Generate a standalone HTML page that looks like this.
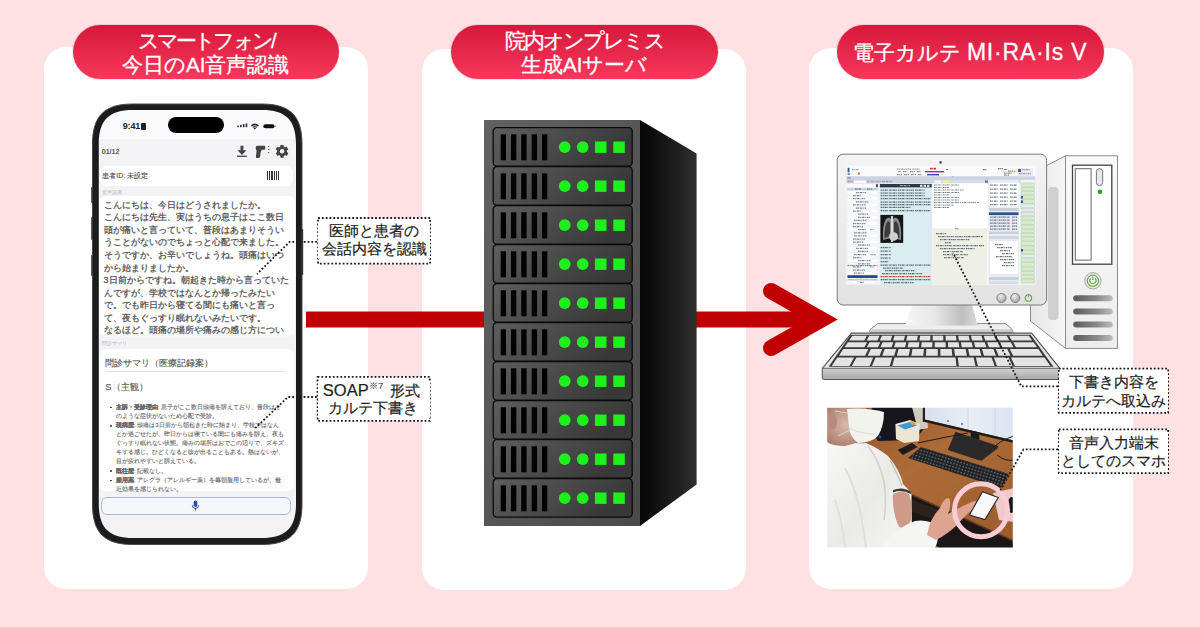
<!DOCTYPE html>
<html lang="ja">
<head>
<meta charset="utf-8">
<style>
*{margin:0;padding:0;box-sizing:border-box}
html,body{width:1200px;height:627px;overflow:hidden}
body{background:#FFE1E4;font-family:"Liberation Sans",sans-serif;position:relative}
.abs{position:absolute}
.card{position:absolute;background:#fff;border-radius:22px}
.pill{position:absolute;top:25px;height:54px;border-radius:27px;
  background:linear-gradient(#D5193B,#F8375B);box-shadow:0 0 1.5px rgba(140,0,30,.55);
  color:#fff;text-align:center;font-weight:normal;-webkit-text-stroke:.3px #fff;font-size:20.5px;line-height:24px;padding-top:4px;white-space:nowrap}
.pill.one{line-height:54px;padding-top:0}
.call{position:absolute;background:#fff;color:#222;font-size:15px;line-height:18.5px;text-align:center;-webkit-text-stroke:.2px #222}
svg{position:absolute;left:0;top:0}
.sum b{font-weight:bold;color:#444}
.bl{position:absolute;left:-5.7px;top:3.6px;width:1.8px;height:1.8px;background:#333;border-radius:1px}
</style>
</head>
<body>
<div class="card" style="left:44px;top:47px;width:324px;height:542px"></div>
<div class="card" style="left:422px;top:49px;width:324px;height:541px"></div>
<div class="card" style="left:808.5px;top:47.5px;width:324.5px;height:541.5px"></div>

<div class="pill" style="left:72.5px;width:266.5px"><span style="letter-spacing:-2.8px">スマートフォン/</span><br>今日のAI音声認識</div>
<div class="pill" style="left:451px;width:266.5px"><span style="letter-spacing:-1.9px">院内オンプレミス</span><br>生成AIサーバ</div>
<div class="pill one" style="left:837px;width:266.5px">電子カルテ <span style="font-size:23px;letter-spacing:.8px">MI·RA·Is V</span></div>

<!-- phone -->
<div class="abs" id="scr" style="left:98.8px;top:110px;width:197.2px;height:428px;border-radius:20px;background:#F3F3F6;overflow:hidden">
  <div class="abs" style="left:0;top:0;width:196px;height:29px;background:#FBFBFD"></div>
  <div class="abs" style="left:24px;top:11px;font-size:9px;font-weight:bold;color:#222;line-height:10px;letter-spacing:-.2px">9:41</div>
  <div class="abs" style="left:42.5px;top:13px;width:5px;height:6.5px;background:#222;border-radius:1px"></div>
  <div class="abs" style="left:69.4px;top:6.5px;width:55.5px;height:16px;background:#000;border-radius:8px"></div>
  
  <div class="abs" style="left:3px;top:37.5px;font-size:7px;font-weight:bold;color:#555;line-height:8px">01/12</div>
  <!-- icons -->
  <svg class="abs" style="left:0;top:0" width="197" height="60" viewBox="98.8 110 197 60">
    <rect x="237" y="125.6" width="1.7" height="1.6" fill="#333"/><rect x="239.8" y="124.9" width="1.7" height="2.3" fill="#333"/><rect x="242.6" y="124.1" width="1.7" height="3.1" fill="#333"/><rect x="245.4" y="123.4" width="1.7" height="3.8" fill="#333"/>
    <path d="M254.65,129.4 L250.6,125.3 Q254.65,121.6 258.7,125.3Z" fill="#222"/>
    <path d="M251.9,126.6 Q254.65,124.3 257.4,126.6" stroke="#FBFBFD" stroke-width=".8" fill="none"/><path d="M253.1,127.8 Q254.65,126.6 256.2,127.8" stroke="#FBFBFD" stroke-width=".7" fill="none"/>
    <rect x="263.1" y="124.2" width="11.2" height="4" rx="2" fill="#111"/><rect x="274.8" y="125.5" width="1" height="1.5" fill="#999"/>
    <path d="M240.3,145.7 H243.2 V150.3 H246.2 L241.75,155 L237.3,150.3 H240.3Z" fill="#444"/><rect x="236.8" y="155.6" width="9.9" height="1.3" fill="#444"/>
    <path d="M257,145.7 H263.8 Q265.1,145.7 265.1,147 V148.6 Q265.1,149.8 263.8,149.8 H261.6 L260.4,152.5 L259.9,156.8 Q259.6,158.1 258.3,158.1 H256.7 Q255.5,158.1 255.7,156.8 L256.4,150.6 Q255.5,149.6 255.5,148.2 V147.2 Q255.5,145.7 257,145.7Z" fill="#444"/>
    <path d="M267.6,146.8 L269.2,146.2 M267.6,149.6 L269.4,149.4 M267.6,152.4 L269.2,152.8" stroke="#555" stroke-width=".9"/>
    <g transform="translate(281.85 151.3)" fill="#444"><circle r="4.9"/><rect x="-1.7" y="-6.4" width="3.4" height="3" rx=".6"/><rect x="-1.7" y="-6.4" width="3.4" height="3" rx=".6" transform="rotate(60)"/><rect x="-1.7" y="-6.4" width="3.4" height="3" rx=".6" transform="rotate(120)"/><rect x="-1.7" y="-6.4" width="3.4" height="3" rx=".6" transform="rotate(180)"/><rect x="-1.7" y="-6.4" width="3.4" height="3" rx=".6" transform="rotate(240)"/><rect x="-1.7" y="-6.4" width="3.4" height="3" rx=".6" transform="rotate(300)"/><circle r="2.2" fill="#F3F3F6"/></g>
  </svg>
  <!-- patient card -->
  <div class="abs" style="left:1px;top:55.5px;width:193px;height:20px;background:#fff;border-radius:7px"></div>
  <div class="abs" style="left:3.5px;top:62px;font-size:7px;color:#555;-webkit-text-stroke:.15px #555;line-height:8px">患者ID: 未設定</div>
  <svg class="abs" style="left:168px;top:61px" width="13" height="10" shape-rendering="crispEdges"><rect x="0" y="0" width="1" height="9" fill="#333"/><rect x="2" y="0" width="1" height="9" fill="#333"/><rect x="4" y="0" width="2" height="9" fill="#333"/><rect x="7" y="0" width="1" height="9" fill="#333"/><rect x="9" y="0" width="1" height="9" fill="#333"/><rect x="11" y="0" width="1" height="9" fill="#333"/></svg>
  <div class="abs" style="left:3.5px;top:79px;font-size:5px;color:#B5B5BA;line-height:6px">音声認識</div>
  <!-- conversation -->
  <div class="abs" style="left:0;top:86px;width:196px;height:141px;background:#fff;border-radius:7px;overflow:hidden"><div class="abs conv" style="left:4.8px;top:2.7px;font-size:8.85px;line-height:12.56px;color:#505050;-webkit-text-stroke:.25px #505050;white-space:nowrap">こんにちは、今日はどうされましたか。<br>こんにちは先生、実はうちの息子はここ数日<br>頭が痛いと言っていて、普段はあまりそうい<br>うことがないのでちょっと心配で来ました。<br>そうですか、お辛いでしょうね。頭痛はいつ<br>から始まりましたか。<br>3日前からですね。朝起きた時から言っていた<br>んですが、学校ではなんとか帰ったみたい<br>で。でも昨日から寝てる間にも痛いと言っ<br>て、夜もぐっすり眠れないみたいです。<br>なるほど。頭痛の場所や痛みの感じ方につい</div></div>
  
  <div class="abs" style="left:0;top:222.5px;width:196px;height:5px;background:linear-gradient(rgba(243,243,246,0),#F3F3F6)"></div>
  <div class="abs" style="left:3.5px;top:230px;font-size:5px;color:#B5B5BA;line-height:6px">問診サマリ</div>
  <!-- summary -->
  <div class="abs" style="left:0;top:238.5px;width:195.5px;height:142px;background:#fff;border-radius:7px"></div>
  <div class="abs" style="left:6.5px;top:247.8px;font-size:9.35px;line-height:11px;color:#5A5A5A;-webkit-text-stroke:.15px #555;white-space:nowrap">問診サマリ（医療記録案）</div>
  <div class="abs" style="left:6.5px;top:260.5px;width:181px;height:1px;background:#E3E3E6"></div>
  <div class="abs" style="left:6.5px;top:272.3px;font-size:9.35px;line-height:11px;color:#5A5A5A;-webkit-text-stroke:.15px #555;white-space:nowrap">S（主観）</div>
  <div class="abs sum" style="left:17px;top:293px;font-size:6.1px;line-height:8.9px;color:#6A6A6A;-webkit-text-stroke:.12px #6A6A6A;white-space:nowrap">
    <div style="position:relative"><i class="bl"></i><b>主訴・受診理由</b>: 息子がここ数日頭痛を訴えており、普段はそ<br>のような症状がないため心配で受診。</div>
    <div style="position:relative;margin-top:.6px"><i class="bl"></i><b>現病歴</b>: 頭痛は3日前から朝起きた時に始まり、学校ではなん<br>とか過ごせたが、昨日からは寝ている間にも痛みを訴え、夜も<br>ぐっすり眠れない状態。痛みの場所はおでこの辺りで、ズキズ<br>キする感じ。ひどくなると咳が出ることもある。熱はないが、<br>目が疲れやすいと訴えている。</div>
    <div style="position:relative;margin-top:.6px"><i class="bl"></i><b>既往歴</b>: 記載なし。</div>
    <div style="position:relative;margin-top:.6px"><i class="bl"></i><b>服用薬</b>: アレグラ（アレルギー薬）を毎朝服用しているが、最<br>近効果を感じられない。</div>
  </div>
  <!-- mic -->
  <div class="abs" style="left:1.8px;top:387.3px;width:190px;height:18px;border:1px solid #A9BAD6;border-radius:6px;background:#F6F7FA"></div>
  <svg class="abs" style="left:92px;top:390px" width="9" height="12" viewBox="0 0 9 12"><rect x="2.7" y="0.5" width="3.6" height="6.6" rx="1.8" fill="#2D4F8E"/><path d="M1.3 5.2q0 3.3 3.2 3.3t3.2-3.3" stroke="#2D4F8E" stroke-width="1" fill="none"/><path d="M4.5 8.5v2.2" stroke="#2D4F8E" stroke-width="1"/></svg>
</div>

<svg width="1200" height="627" style="z-index:1">
  <path d="M80,95 L315,95 L315,555 L80,555Z M132.50,104.00 L262.00,104.00 C290.00,104.00 302.00,116.00 302.00,144.00 L302.00,504.50 C302.00,532.50 290.00,544.50 262.00,544.50 L132.50,544.50 C104.50,544.50 92.50,532.50 92.50,504.50 L92.50,144.00 C92.50,116.00 104.50,104.00 132.50,104.00Z" fill="#fff" fill-rule="evenodd"/>
  <path d="M132.50,104.00 L262.00,104.00 C290.00,104.00 302.00,116.00 302.00,144.00 L302.00,504.50 C302.00,532.50 290.00,544.50 262.00,544.50 L132.50,544.50 C104.50,544.50 92.50,532.50 92.50,504.50 L92.50,144.00 C92.50,116.00 104.50,104.00 132.50,104.00Z M132.80,110.00 L262.00,110.00 C285.80,110.00 296.00,120.20 296.00,144.00 L296.00,504.00 C296.00,527.80 285.80,538.00 262.00,538.00 L132.80,538.00 C109.00,538.00 98.80,527.80 98.80,504.00 L98.80,144.00 C98.80,120.20 109.00,110.00 132.80,110.00Z" fill="#1C1C1C" fill-rule="evenodd"/>
  <path d="M132.50,104.00 L262.00,104.00 C290.00,104.00 302.00,116.00 302.00,144.00 L302.00,504.50 C302.00,532.50 290.00,544.50 262.00,544.50 L132.50,544.50 C104.50,544.50 92.50,532.50 92.50,504.50 L92.50,144.00 C92.50,116.00 104.50,104.00 132.50,104.00Z" fill="none" stroke="#4A4A4A" stroke-width="1"/>
  <rect x="91.2" y="187" width="1.6" height="16" rx=".8" fill="#333"/>
  <rect x="91.2" y="217" width="1.6" height="23" rx=".8" fill="#333"/>
  <rect x="91.2" y="255" width="1.6" height="21" rx=".8" fill="#333"/>
  <rect x="301.6" y="229" width="1.6" height="46" rx=".8" fill="#333"/>
</svg>
<!-- arrow -->
<svg width="1200" height="627" style="z-index:1">
  <rect x="306" y="311.5" width="190" height="16" fill="#C00000"/>
  <rect x="690" y="311.5" width="130" height="16" fill="#C00000"/>
  <polyline points="771,291 821.5,319.5 771,348" fill="none" stroke="#C00000" stroke-width="16" stroke-linecap="round" stroke-linejoin="miter" stroke-miterlimit="10"/>
</svg>

<!-- server -->
<svg width="1200" height="627" style="z-index:2">
  <defs>
    <linearGradient id="sside" x1="0" x2="1" y1="0" y2="0"><stop offset="0" stop-color="#050505"/><stop offset="1" stop-color="#2E2E2E"/></linearGradient>
    <linearGradient id="sfront" x1="0" x2="1" y1="0" y2="1"><stop offset="0" stop-color="#626262"/><stop offset="1" stop-color="#4A4A4A"/></linearGradient>
    <linearGradient id="sbay" x1="0" x2="1" y1="0" y2=".3"><stop offset="0" stop-color="#5E5E5E"/><stop offset="1" stop-color="#383838"/></linearGradient>
    <g id="bay">
      <rect x="493.2" y="0.4" width="139" height="38.4" rx="3.5" fill="url(#sbay)" stroke="#0A0A0A" stroke-width="1.3"/>
      <rect x="500.7" y="7" width="5.3" height="26" fill="#000"/>
      <rect x="511" y="7" width="5.3" height="26" fill="#000"/>
      <rect x="521.3" y="7" width="5.3" height="26" fill="#000"/>
      <rect x="531.7" y="7" width="5.3" height="26" fill="#000"/>
      <rect x="542" y="7" width="5.3" height="26" fill="#000"/>
      <circle cx="564.7" cy="19.8" r="5.9" fill="#1EF01E"/>
      <circle cx="582.7" cy="19.8" r="5.9" fill="#1EF01E"/>
      <rect x="594.9" y="14.2" width="11.6" height="11.4" fill="#1EF01E"/>
      <rect x="613.3" y="14.2" width="11.5" height="11.4" fill="#1EF01E"/>
    </g>
  </defs>
  <polygon points="640,120 696.6,153.6 696.6,484.4 640,526" fill="url(#sside)"/>
  <rect x="484" y="120" width="156" height="406" fill="url(#sfront)"/>
  <g transform="translate(0 127.30)"><use href="#bay"/></g><g transform="translate(0 166.30)"><use href="#bay"/></g><g transform="translate(0 205.30)"><use href="#bay"/></g><g transform="translate(0 244.30)"><use href="#bay"/></g><g transform="translate(0 283.30)"><use href="#bay"/></g><g transform="translate(0 322.30)"><use href="#bay"/></g><g transform="translate(0 361.30)"><use href="#bay"/></g><g transform="translate(0 400.30)"><use href="#bay"/></g><g transform="translate(0 439.30)"><use href="#bay"/></g><g transform="translate(0 478.30)"><use href="#bay"/></g>
</svg>

<!-- computer -->
<svg width="1200" height="627" style="z-index:2">
  <defs>
    <linearGradient id="twf" x1="0" x2="0" y1="0" y2="1"><stop offset="0" stop-color="#FAFAFA"/><stop offset="1" stop-color="#EDEDED"/></linearGradient>
    <linearGradient id="tws" x1="0" x2="1" y1="0" y2="0"><stop offset="0" stop-color="#E6E6E6"/><stop offset="1" stop-color="#F6F6F6"/></linearGradient>
    <linearGradient id="slot" x1="0" x2="1"><stop offset="0" stop-color="#5A5A5A"/><stop offset=".6" stop-color="#8A8A8A"/><stop offset="1" stop-color="#BDBDBD"/></linearGradient>
    <linearGradient id="mon" x1="0" x2="0" y1="0" y2="1"><stop offset="0" stop-color="#F4F4F4"/><stop offset="1" stop-color="#E2E2E2"/></linearGradient>
    <linearGradient id="neck" x1="0" x2="1"><stop offset="0" stop-color="#F6F6F6"/><stop offset=".4" stop-color="#E8E8E8"/><stop offset=".78" stop-color="#BEBEBE"/><stop offset="1" stop-color="#DADADA"/></linearGradient>
    <linearGradient id="kbf" x1="0" x2="0" y1="0" y2="1"><stop offset="0" stop-color="#D0D0D0"/><stop offset="1" stop-color="#A8A8A8"/></linearGradient>
    <filter id="sb" x="0" y="0" width="1" height="1"><feGaussianBlur stdDeviation=".5"/></filter>
    <filter id="xb"><feGaussianBlur stdDeviation=".5"/></filter>
    <radialGradient id="btn" cx=".4" cy=".35" r=".7"><stop offset="0" stop-color="#F0F0F0"/><stop offset="1" stop-color="#9A9A9A"/></radialGradient>
  </defs>
  <!-- tower -->
  <polygon points="1046,166 1065.5,155.8 1065.5,348.4 1030.5,321 1030.5,300" fill="url(#tws)" stroke="#8C8C8C" stroke-width="1"/>
  <rect x="1048" y="187" width="10.5" height="133" rx="4" fill="#D0D0D0"/>
  <rect x="1065.5" y="155.8" width="52" height="192.6" fill="url(#twf)" stroke="#8C8C8C" stroke-width="1"/>
  <rect x="1072.5" y="165.2" width="39.3" height="99" fill="#fff" stroke="#444" stroke-width="1.3"/>
  <rect x="1075.3" y="168.7" width="15.8" height="91.4" fill="#fff" stroke="#666" stroke-width="1"/>
  <rect x="1096.4" y="168.7" width="6.3" height="16.8" rx="3" fill="#E8E8E8" stroke="#777" stroke-width="1"/>
  <circle cx="1099.9" cy="191.8" r="2.3" fill="#2E9E2E"/>
  <circle cx="1092.9" cy="280.8" r="8.2" fill="#E4E4E4" stroke="#AAA" stroke-width="1"/>
  <circle cx="1092.9" cy="280.8" r="5.6" fill="#F4F4F4" stroke="#6DB24F" stroke-width="1.2"/>
  <path d="M1090.7 278.3a3.1 3.1 0 1 0 4.4 0M1092.9 276.6v3.6" fill="none" stroke="#5BAA3C" stroke-width="1.1"/>
  <rect x="1073.2" y="295.3" width="39.6" height="6" rx="3" fill="url(#slot)"/>
  <rect x="1073.2" y="308.6" width="39.6" height="6" rx="3" fill="url(#slot)"/>
  <rect x="1073.2" y="321.6" width="39.6" height="6" rx="3" fill="url(#slot)"/>
  <rect x="1073.2" y="334.9" width="39.6" height="6" rx="3" fill="url(#slot)"/>
  <!-- stand -->
  
  <path d="M877.5,323.6 L1005.5,323.6 L1012.8,330 L1012.8,332.3 L869.8,332.3 L869.8,330Z" fill="#EDEDED" stroke="#8A8A8A" stroke-width="1"/>
  <rect x="870.3" y="329.6" width="142" height="2.3" fill="#C6C6C6"/>
  <polygon points="912.4,304 971.9,304 977.6,325.5 905.3,325.5" fill="url(#neck)"/>
  <!-- monitor -->
  <rect x="837.2" y="154.2" width="209.4" height="150.8" rx="6" fill="url(#mon)" stroke="#7A7A7A" stroke-width="1"/>
  <circle cx="940.6" cy="162.4" r="1.3" fill="#555"/>
  <circle cx="1001.5" cy="298" r="4.6" fill="url(#btn)" stroke="#777" stroke-width=".8"/>
  <circle cx="1015.2" cy="298" r="4.6" fill="url(#btn)" stroke="#777" stroke-width=".8"/>
  <circle cx="1028.4" cy="298" r="3.2" fill="none" stroke="#5BAA3C" stroke-width="1.1"/>
  <path d="M1028.4 294.2v3" stroke="#5BAA3C" stroke-width="1.1"/>
  <!-- keyboard -->
  <path d="M822.3,368.3 L851.5,333.1 L1031.7,333.1 L1059.8,368.3 L1059.8,377.6 Q1059.8,379.4 1058,379.4 L824,379.4 Q822.3,379.4 822.3,377.6Z" fill="#E6E6E6" stroke="#555" stroke-width="1.1"/>
  <rect x="823" y="368.8" width="236.2" height="10" rx="1.5" fill="url(#kbf)"/>
  <path d="M822.3,368.3 L1059.8,368.3" stroke="#666" stroke-width="1"/>
  <polygon points="850.6,334.8 1030.6,334.8 1053.5,366.8 828.6,366.8" fill="#3A3A3A"/>
  <path d="M852.3,335.7 L866.9,335.7 L864.3,340.4 L849.1,340.4Z M869.2,335.7 L879.6,335.7 L877.4,340.4 L866.6,340.4Z M881.9,335.7 L892.3,335.7 L890.6,340.4 L879.8,340.4Z M894.6,335.7 L905.0,335.7 L903.8,340.4 L893.0,340.4Z M907.3,335.7 L917.8,335.7 L917.0,340.4 L906.2,340.4Z M920.1,335.7 L930.5,335.7 L930.2,340.4 L919.4,340.4Z M932.8,335.7 L943.2,335.7 L943.4,340.4 L932.6,340.4Z M945.5,335.7 L955.9,335.7 L956.6,340.4 L945.8,340.4Z M958.2,335.7 L968.7,335.7 L969.8,340.4 L958.9,340.4Z M971.0,335.7 L981.4,335.7 L982.9,340.4 L972.1,340.4Z M983.7,335.7 L994.1,335.7 L996.1,340.4 L985.3,340.4Z M996.4,335.7 L1006.8,335.7 L1009.3,340.4 L998.5,340.4Z M1009.1,335.7 L1028.9,335.7 L1032.2,340.4 L1011.7,340.4Z M847.9,342.2 L867.1,342.2 L864.4,347.3 L844.5,347.3Z M869.5,342.2 L880.2,342.2 L878.0,347.3 L866.9,347.3Z M882.6,342.2 L893.3,342.2 L891.6,347.3 L880.4,347.3Z M895.6,342.2 L906.3,342.2 L905.1,347.3 L894.0,347.3Z M908.7,342.2 L919.4,342.2 L918.7,347.3 L907.6,347.3Z M921.8,342.2 L932.5,342.2 L932.2,347.3 L921.1,347.3Z M934.8,342.2 L945.5,342.2 L945.8,347.3 L934.7,347.3Z M947.9,342.2 L958.6,342.2 L959.3,347.3 L948.2,347.3Z M960.9,342.2 L971.6,342.2 L972.9,347.3 L961.8,347.3Z M974.0,342.2 L984.7,342.2 L986.4,347.3 L975.3,347.3Z M987.1,342.2 L997.8,342.2 L1000.0,347.3 L988.9,347.3Z M1000.1,342.2 L1010.8,342.2 L1013.5,347.3 L1002.4,347.3Z M1013.2,342.2 L1033.5,342.2 L1037.1,347.3 L1016.0,347.3Z M843.3,349.1 L868.3,349.1 L865.1,355.7 L838.9,355.7Z M870.8,349.1 L882.2,349.1 L879.6,355.7 L867.7,355.7Z M884.7,349.1 L896.1,349.1 L894.2,355.7 L882.2,355.7Z M898.6,349.1 L910.0,349.1 L908.7,355.7 L896.8,355.7Z M912.5,349.1 L923.9,349.1 L923.3,355.7 L911.3,355.7Z M926.4,349.1 L937.8,349.1 L937.8,355.7 L925.9,355.7Z M940.3,349.1 L951.7,349.1 L952.3,355.7 L940.4,355.7Z M954.2,349.1 L965.6,349.1 L966.9,355.7 L955.0,355.7Z M968.1,349.1 L979.5,349.1 L981.4,355.7 L969.5,355.7Z M982.0,349.1 L993.4,349.1 L996.0,355.7 L984.0,355.7Z M995.9,349.1 L1007.3,349.1 L1010.5,355.7 L998.6,355.7Z M1009.8,349.1 L1038.3,349.1 L1042.9,355.7 L1013.1,355.7Z M837.3,357.5 L854.1,357.5 L849.4,365.9 L831.7,365.9Z M856.4,357.5 L873.2,357.5 L869.6,365.9 L851.8,365.9Z M875.5,357.5 L892.3,357.5 L889.7,365.9 L872.0,365.9Z M894.6,357.5 L955.5,357.5 L956.4,365.9 L892.2,365.9Z M957.8,357.5 L973.6,357.5 L975.5,365.9 L958.9,365.9Z M975.9,357.5 L991.6,357.5 L994.6,365.9 L977.9,365.9Z M993.9,357.5 L1008.6,357.5 L1012.5,365.9 L997.0,365.9Z M1010.9,357.5 L1044.5,357.5 L1050.4,365.9 L1015.0,365.9Z" fill="#E4E4E4"/>
  <!-- screen -->
  <g id="screen" filter="url(#sb)"><rect x="846.4" y="165.8" width="188.9" height="119.2" fill="#FBFBFB" />
<rect x="847.6" y="167.8" width="1.9" height="4.6" fill="#2C5EA8" />
<path d="M852.0,169.50h7.0" stroke="#9AA" stroke-width="1.25" stroke-dasharray="1.7 .5 1.1 .6 2.3 .5 .9 1"/>
<rect x="847.6" y="173.5" width="2.5" height="1.2" fill="#555" />
<rect x="858.0" y="172.5" width="1.8" height="2.0" fill="#B85040" />
<path d="M897.0,169.10h14.0" stroke="#999" stroke-width="1.25" stroke-dasharray="1.7 .5 1.1 .6 2.3 .5 .9 1"/>
<path d="M912.5,169.10h7.0" stroke="#999" stroke-width="1.25" stroke-dasharray="1.7 .5 1.1 .6 2.3 .5 .9 1"/>
<rect x="898.0" y="171.2" width="3.0" height="1.0" fill="#888" />
<path d="M903.0,171.70h4.0" stroke="#888" stroke-width="1.25" stroke-dasharray="1.7 .5 1.1 .6 2.3 .5 .9 1"/>
<path d="M910.0,171.70h5.0" stroke="#888" stroke-width="1.25" stroke-dasharray="1.7 .5 1.1 .6 2.3 .5 .9 1"/>
<path d="M917.0,171.70h4.0" stroke="#888" stroke-width="1.25" stroke-dasharray="1.7 .5 1.1 .6 2.3 .5 .9 1"/>
<path d="M897.0,174.50h5.0" stroke="#888" stroke-width="1.25" stroke-dasharray="1.7 .5 1.1 .6 2.3 .5 .9 1"/>
<path d="M904.0,174.50h5.0" stroke="#888" stroke-width="1.25" stroke-dasharray="1.7 .5 1.1 .6 2.3 .5 .9 1"/>
<path d="M911.0,174.50h5.0" stroke="#888" stroke-width="1.25" stroke-dasharray="1.7 .5 1.1 .6 2.3 .5 .9 1"/>
<path d="M918.0,174.50h4.0" stroke="#888" stroke-width="1.25" stroke-dasharray="1.7 .5 1.1 .6 2.3 .5 .9 1"/>
<path d="M930.0,168.65h6.0" stroke="#D02040" stroke-width="1.62" stroke-dasharray="1.7 .5 1.1 .6 2.3 .5 .9 1"/>
<rect x="925.0" y="171.0" width="19.0" height="1.4" fill="#D02040" />
<rect x="927.0" y="174.0" width="12.0" height="1.4" fill="#3040C0" />
<rect x="946.0" y="169.0" width="2.0" height="1.0" fill="#777" />
<path d="M983.0,169.50h4.0" stroke="#777" stroke-width="1.25" stroke-dasharray="1.7 .5 1.1 .6 2.3 .5 .9 1"/>
<path d="M998.0,168.50h6.0" stroke="#777" stroke-width="1.25" stroke-dasharray="1.7 .5 1.1 .6 2.3 .5 .9 1"/>
<rect x="952.0" y="176.5" width="1.5" height="1.2" fill="#333" />
<rect x="1003.0" y="168.0" width="14.0" height="8.0" fill="#F4F4F4" />
<rect x="1004.0" y="169.0" width="3.0" height="1.0" fill="#888" />
<path d="M1008.0,171.00h5.0" stroke="#888" stroke-width="1.25" stroke-dasharray="1.7 .5 1.1 .6 2.3 .5 .9 1"/>
<path d="M1004.0,173.00h8.0" stroke="#888" stroke-width="1.25" stroke-dasharray="1.7 .5 1.1 .6 2.3 .5 .9 1"/>
<path d="M1004.0,175.00h5.0" stroke="#888" stroke-width="1.25" stroke-dasharray="1.7 .5 1.1 .6 2.3 .5 .9 1"/>
<rect x="1017.0" y="168.0" width="16.0" height="8.0" fill="#E8ECF2" />
<rect x="1018.0" y="169.0" width="3.0" height="3.0" fill="#4060A0" />
<path d="M1022.0,169.50h8.0" stroke="#99A" stroke-width="1.25" stroke-dasharray="1.7 .5 1.1 .6 2.3 .5 .9 1"/>
<path d="M1019.0,173.50h12.0" stroke="#99A" stroke-width="1.25" stroke-dasharray="1.7 .5 1.1 .6 2.3 .5 .9 1"/>
<rect x="1013.5" y="170.5" width="2.0" height="2.0" fill="#E0C040" />
<rect x="846.4" y="176.3" width="188.9" height="7.2" fill="#CBD2E0" />
<rect x="847.5" y="177.3" width="3.0" height="1.2" fill="#778" />
<path d="M847.5,181.60h5.0" stroke="#99A" stroke-width="1.50" stroke-dasharray="1.7 .5 1.1 .6 2.3 .5 .9 1"/>
<rect x="854.0" y="180.6" width="12.0" height="2.3" fill="#fff" />
<path d="M867.0,181.60h14.0" stroke="#aab" stroke-width="1.50" stroke-dasharray="1.7 .5 1.1 .6 2.3 .5 .9 1"/>
<path d="M882.0,181.60h10.0" stroke="#99A" stroke-width="1.50" stroke-dasharray="1.7 .5 1.1 .6 2.3 .5 .9 1"/>
<rect x="846.7" y="183.5" width="31.8" height="101.5" fill="#E8EBF0" />
<rect x="847.5" y="184.2" width="28.0" height="3.0" fill="#fff" />
<rect x="876.0" y="184.2" width="2.0" height="3.0" fill="#555" />
<rect x="847.5" y="188.0" width="30.0" height="2.2" fill="#C8D0DC" />
<path d="M855.0,189.05h6.0" stroke="#667" stroke-width="1.12" stroke-dasharray="1.7 .5 1.1 .6 2.3 .5 .9 1"/>
<path d="M867.0,189.05h5.0" stroke="#667" stroke-width="1.12" stroke-dasharray="1.7 .5 1.1 .6 2.3 .5 .9 1"/>
<rect x="847.5" y="191.0" width="30.0" height="3.1" fill="#FFFFFF" />
<path d="M856.0,192.50h10.0" stroke="#7C8494" stroke-width="1.25" stroke-dasharray="1.7 .5 1.1 .6 2.3 .5 .9 1"/>
<rect x="847.5" y="194.1" width="30.0" height="3.1" fill="#F5F6F9" />
<path d="M853.0,195.60h8.0" stroke="#7C8494" stroke-width="1.25" stroke-dasharray="1.7 .5 1.1 .6 2.3 .5 .9 1"/>
<rect x="847.5" y="197.2" width="30.0" height="3.1" fill="#FFFFFF" />
<path d="M853.0,198.70h12.0" stroke="#7C8494" stroke-width="1.25" stroke-dasharray="1.7 .5 1.1 .6 2.3 .5 .9 1"/>
<rect x="847.5" y="200.3" width="30.0" height="3.1" fill="#F5F6F9" />
<path d="M856.0,201.80h13.0" stroke="#7C8494" stroke-width="1.25" stroke-dasharray="1.7 .5 1.1 .6 2.3 .5 .9 1"/>
<rect x="847.5" y="203.4" width="30.0" height="3.1" fill="#FFFFFF" />
<path d="M853.0,204.90h13.0" stroke="#7C8494" stroke-width="1.25" stroke-dasharray="1.7 .5 1.1 .6 2.3 .5 .9 1"/>
<rect x="847.5" y="206.5" width="30.0" height="3.1" fill="#F5F6F9" />
<path d="M856.0,208.00h10.0" stroke="#7C8494" stroke-width="1.25" stroke-dasharray="1.7 .5 1.1 .6 2.3 .5 .9 1"/>
<rect x="847.5" y="209.6" width="30.0" height="3.1" fill="#FFFFFF" />
<path d="M853.0,211.10h8.0" stroke="#7C8494" stroke-width="1.25" stroke-dasharray="1.7 .5 1.1 .6 2.3 .5 .9 1"/>
<rect x="847.5" y="212.7" width="30.0" height="3.1" fill="#F5F6F9" />
<path d="M858.0,214.20h10.0" stroke="#7C8494" stroke-width="1.25" stroke-dasharray="1.7 .5 1.1 .6 2.3 .5 .9 1"/>
<rect x="847.5" y="215.8" width="30.0" height="3.1" fill="#FFFFFF" />
<path d="M858.0,217.30h12.0" stroke="#7C8494" stroke-width="1.25" stroke-dasharray="1.7 .5 1.1 .6 2.3 .5 .9 1"/>
<rect x="847.5" y="218.9" width="30.0" height="3.1" fill="#F5F6F9" />
<path d="M854.0,220.40h13.0" stroke="#7C8494" stroke-width="1.25" stroke-dasharray="1.7 .5 1.1 .6 2.3 .5 .9 1"/>
<rect x="847.5" y="222.0" width="30.0" height="3.1" fill="#FFFFFF" />
<path d="M853.0,223.50h13.0" stroke="#7C8494" stroke-width="1.25" stroke-dasharray="1.7 .5 1.1 .6 2.3 .5 .9 1"/>
<rect x="847.5" y="225.1" width="30.0" height="3.1" fill="#F5F6F9" />
<path d="M853.0,226.60h10.0" stroke="#7C8494" stroke-width="1.25" stroke-dasharray="1.7 .5 1.1 .6 2.3 .5 .9 1"/>
<rect x="847.5" y="228.2" width="30.0" height="3.1" fill="#FFFFFF" />
<path d="M858.0,229.70h8.0" stroke="#7C8494" stroke-width="1.25" stroke-dasharray="1.7 .5 1.1 .6 2.3 .5 .9 1"/>
<path d="M870.0,229.70h4.0" stroke="#9AA2AE" stroke-width="1.25" stroke-dasharray="1.7 .5 1.1 .6 2.3 .5 .9 1"/>
<rect x="847.5" y="231.3" width="30.0" height="3.1" fill="#F5F6F9" />
<path d="M854.0,232.80h13.0" stroke="#7C8494" stroke-width="1.25" stroke-dasharray="1.7 .5 1.1 .6 2.3 .5 .9 1"/>
<rect x="847.5" y="234.4" width="30.0" height="3.1" fill="#FFFFFF" />
<path d="M854.0,235.90h13.0" stroke="#7C8494" stroke-width="1.25" stroke-dasharray="1.7 .5 1.1 .6 2.3 .5 .9 1"/>
<rect x="847.5" y="237.5" width="30.0" height="3.1" fill="#F5F6F9" />
<path d="M853.0,239.00h12.0" stroke="#7C8494" stroke-width="1.25" stroke-dasharray="1.7 .5 1.1 .6 2.3 .5 .9 1"/>
<rect x="847.5" y="240.6" width="30.0" height="3.1" fill="#FFFFFF" />
<path d="M853.0,242.10h10.0" stroke="#7C8494" stroke-width="1.25" stroke-dasharray="1.7 .5 1.1 .6 2.3 .5 .9 1"/>
<rect x="847.5" y="243.7" width="30.0" height="3.1" fill="#F5F6F9" />
<path d="M858.0,245.20h12.0" stroke="#7C8494" stroke-width="1.25" stroke-dasharray="1.7 .5 1.1 .6 2.3 .5 .9 1"/>
<rect x="847.5" y="246.8" width="30.0" height="3.1" fill="#FFFFFF" />
<path d="M856.0,248.30h12.0" stroke="#7C8494" stroke-width="1.25" stroke-dasharray="1.7 .5 1.1 .6 2.3 .5 .9 1"/>
<rect x="847.5" y="249.9" width="30.0" height="3.1" fill="#F5F6F9" />
<path d="M858.0,251.40h10.0" stroke="#7C8494" stroke-width="1.25" stroke-dasharray="1.7 .5 1.1 .6 2.3 .5 .9 1"/>
<rect x="847.5" y="253.0" width="30.0" height="3.1" fill="#FFFFFF" />
<path d="M854.0,254.50h12.0" stroke="#7C8494" stroke-width="1.25" stroke-dasharray="1.7 .5 1.1 .6 2.3 .5 .9 1"/>
<path d="M870.0,254.50h6.0" stroke="#9AA2AE" stroke-width="1.25" stroke-dasharray="1.7 .5 1.1 .6 2.3 .5 .9 1"/>
<rect x="847.5" y="256.1" width="30.0" height="3.1" fill="#F5F6F9" />
<path d="M853.0,257.60h8.0" stroke="#7C8494" stroke-width="1.25" stroke-dasharray="1.7 .5 1.1 .6 2.3 .5 .9 1"/>
<rect x="847.5" y="259.2" width="30.0" height="3.1" fill="#FFFFFF" />
<path d="M858.0,260.70h13.0" stroke="#7C8494" stroke-width="1.25" stroke-dasharray="1.7 .5 1.1 .6 2.3 .5 .9 1"/>
<rect x="847.5" y="262.3" width="30.0" height="3.1" fill="#F5F6F9" />
<path d="M858.0,263.80h12.0" stroke="#7C8494" stroke-width="1.25" stroke-dasharray="1.7 .5 1.1 .6 2.3 .5 .9 1"/>
<rect x="847.5" y="265.4" width="30.0" height="3.1" fill="#FFFFFF" />
<path d="M853.0,266.90h8.0" stroke="#7C8494" stroke-width="1.25" stroke-dasharray="1.7 .5 1.1 .6 2.3 .5 .9 1"/>
<path d="M870.0,266.90h4.0" stroke="#9AA2AE" stroke-width="1.25" stroke-dasharray="1.7 .5 1.1 .6 2.3 .5 .9 1"/>
<rect x="847.5" y="268.5" width="30.0" height="3.1" fill="#F5F6F9" />
<path d="M853.0,270.00h12.0" stroke="#7C8494" stroke-width="1.25" stroke-dasharray="1.7 .5 1.1 .6 2.3 .5 .9 1"/>
<rect x="847.5" y="271.6" width="30.0" height="3.1" fill="#FFFFFF" />
<path d="M854.0,273.10h10.0" stroke="#7C8494" stroke-width="1.25" stroke-dasharray="1.7 .5 1.1 .6 2.3 .5 .9 1"/>
<rect x="847.5" y="274.7" width="30.0" height="3.1" fill="#F5F6F9" />
<path d="M854.0,276.20h8.0" stroke="#7C8494" stroke-width="1.25" stroke-dasharray="1.7 .5 1.1 .6 2.3 .5 .9 1"/>
<path d="M870.0,276.20h4.0" stroke="#9AA2AE" stroke-width="1.25" stroke-dasharray="1.7 .5 1.1 .6 2.3 .5 .9 1"/>
<rect x="847.5" y="277.8" width="30.0" height="3.1" fill="#FFFFFF" />
<path d="M856.0,279.30h13.0" stroke="#7C8494" stroke-width="1.25" stroke-dasharray="1.7 .5 1.1 .6 2.3 .5 .9 1"/>
<path d="M870.0,279.30h6.0" stroke="#9AA2AE" stroke-width="1.25" stroke-dasharray="1.7 .5 1.1 .6 2.3 .5 .9 1"/>
<rect x="847.5" y="280.9" width="30.0" height="3.1" fill="#F5F6F9" />
<path d="M856.0,282.40h8.0" stroke="#7C8494" stroke-width="1.25" stroke-dasharray="1.7 .5 1.1 .6 2.3 .5 .9 1"/>
<path d="M847.5,265.70h30.0" stroke="#E03040" stroke-width="1.00" stroke-dasharray="1.7 .5 1.1 .6 2.3 .5 .9 1"/>
<rect x="847.5" y="275.2" width="30.0" height="2.8" fill="#1F4D8F" />
<rect x="847.5" y="279.0" width="30.0" height="1.5" fill="#C0C8D6" />
<rect x="853.0" y="281.5" width="7.0" height="1.5" fill="#fff" />
<rect x="864.0" y="281.5" width="9.0" height="1.5" fill="#fff" />
<rect x="879.4" y="183.8" width="52.8" height="101.2" fill="#D9EDF1" />
<rect x="879.9" y="184.0" width="51.8" height="3.4" fill="#2F3A46" />
<path d="M900.0,185.70h10.0" stroke="#9AA" stroke-width="1.25" stroke-dasharray="1.7 .5 1.1 .6 2.3 .5 .9 1"/>
<rect x="920.0" y="184.7" width="2.5" height="2.2" fill="#DDD" />
<rect x="923.5" y="184.7" width="2.5" height="2.2" fill="#DDD" />
<rect x="927.0" y="184.7" width="2.5" height="2.2" fill="#DDD" />
<path d="M880.6,190.10h44.0" stroke="#5C6A72" stroke-width="1.25" stroke-dasharray="1.7 .5 1.1 .6 2.3 .5 .9 1"/>
<path d="M880.6,193.10h44.0" stroke="#5C6A72" stroke-width="1.25" stroke-dasharray="1.7 .5 1.1 .6 2.3 .5 .9 1"/>
<path d="M880.6,195.50h44.0" stroke="#5C6A72" stroke-width="1.25" stroke-dasharray="1.7 .5 1.1 .6 2.3 .5 .9 1"/>
<path d="M880.6,198.70h50.0" stroke="#5C6A72" stroke-width="1.25" stroke-dasharray="1.7 .5 1.1 .6 2.3 .5 .9 1"/>
<path d="M880.6,202.00h50.0" stroke="#5C6A72" stroke-width="1.25" stroke-dasharray="1.7 .5 1.1 .6 2.3 .5 .9 1"/>
<path d="M880.6,204.50h50.0" stroke="#5C6A72" stroke-width="1.25" stroke-dasharray="1.7 .5 1.1 .6 2.3 .5 .9 1"/>
<path d="M880.6,207.30h30.0" stroke="#5C6A72" stroke-width="1.25" stroke-dasharray="1.7 .5 1.1 .6 2.3 .5 .9 1"/>
<path d="M880.6,210.50h50.0" stroke="#5C6A72" stroke-width="1.25" stroke-dasharray="1.7 .5 1.1 .6 2.3 .5 .9 1"/>
<rect x="880.4" y="214.9" width="22.8" height="28" fill="#151515"/>
<g filter="url(#xb)"><path d="M883,240 Q882,226 886,219 Q889,216 891,219 L891,238Z" fill="#8A8A8A"/>
<path d="M901,240 Q902,226 898,219 Q895,216 893,219 L893,238Z" fill="#8A8A8A"/>
<path d="M884.5,238 Q884,228 887,222 Q889,220 890,223 L890,236Z" fill="#3A3A3A"/>
<path d="M899.5,238 Q900,228 897,222 Q895,220 894,223 L894,236Z" fill="#3A3A3A"/>
<path d="M892,216 L892,242" stroke="#D8D8D8" stroke-width="2.2"/>
<ellipse cx="893.5" cy="236.5" rx="4.5" ry="4.2" fill="#CFCFCF"/></g>
<path d="M880.6,247.50h10.0" stroke="#5C6A72" stroke-width="1.25" stroke-dasharray="1.7 .5 1.1 .6 2.3 .5 .9 1"/>
<path d="M880.6,251.00h10.0" stroke="#5C6A72" stroke-width="1.25" stroke-dasharray="1.7 .5 1.1 .6 2.3 .5 .9 1"/>
<path d="M880.6,254.50h10.0" stroke="#5C6A72" stroke-width="1.25" stroke-dasharray="1.7 .5 1.1 .6 2.3 .5 .9 1"/>
<path d="M880.6,258.00h10.0" stroke="#5C6A72" stroke-width="1.25" stroke-dasharray="1.7 .5 1.1 .6 2.3 .5 .9 1"/>
<path d="M880.6,261.50h8.0" stroke="#5C6A72" stroke-width="1.25" stroke-dasharray="1.7 .5 1.1 .6 2.3 .5 .9 1"/>
<path d="M880.6,265.00h50.0" stroke="#5C6A72" stroke-width="1.25" stroke-dasharray="1.7 .5 1.1 .6 2.3 .5 .9 1"/>
<path d="M883.0,268.00h20.0" stroke="#5C6A72" stroke-width="1.25" stroke-dasharray="1.7 .5 1.1 .6 2.3 .5 .9 1"/>
<path d="M885.0,270.50h30.0" stroke="#5C6A72" stroke-width="1.25" stroke-dasharray="1.7 .5 1.1 .6 2.3 .5 .9 1"/>
<path d="M882.0,273.50h40.0" stroke="#5C6A72" stroke-width="1.25" stroke-dasharray="1.7 .5 1.1 .6 2.3 .5 .9 1"/>
<path d="M880.6,276.50h50.0" stroke="#C84030" stroke-width="1.25" stroke-dasharray="1.7 .5 1.1 .6 2.3 .5 .9 1"/>
<path d="M880.6,279.50h50.0" stroke="#5C6A72" stroke-width="1.25" stroke-dasharray="1.7 .5 1.1 .6 2.3 .5 .9 1"/>
<path d="M884.0,282.50h30.0" stroke="#5C6A72" stroke-width="1.25" stroke-dasharray="1.7 .5 1.1 .6 2.3 .5 .9 1"/>
<rect x="932.6" y="179.8" width="54.6" height="3.5" fill="#D8DCE4" />
<rect x="935.0" y="180.4" width="6.0" height="2.4" fill="#F4F4F4" />
<rect x="942.5" y="180.4" width="8.0" height="2.4" fill="#F2EE90" />
<rect x="985.0" y="180.6" width="3.0" height="2.0" fill="#5070B0" />
<rect x="932.6" y="183.3" width="54.6" height="45.0" fill="#FFFFFF" />
<path d="M934.0,184.95h25.0" stroke="#7A8088" stroke-width="1.12" stroke-dasharray="1.7 .5 1.1 .6 2.3 .5 .9 1"/>
<path d="M934.0,187.45h15.0" stroke="#7A8088" stroke-width="1.12" stroke-dasharray="1.7 .5 1.1 .6 2.3 .5 .9 1"/>
<path d="M934.0,189.95h30.0" stroke="#7A8088" stroke-width="1.12" stroke-dasharray="1.7 .5 1.1 .6 2.3 .5 .9 1"/>
<path d="M934.0,192.45h25.0" stroke="#7A8088" stroke-width="1.12" stroke-dasharray="1.7 .5 1.1 .6 2.3 .5 .9 1"/>
<path d="M934.0,194.95h15.0" stroke="#7A8088" stroke-width="1.12" stroke-dasharray="1.7 .5 1.1 .6 2.3 .5 .9 1"/>
<path d="M934.0,197.45h25.0" stroke="#7A8088" stroke-width="1.12" stroke-dasharray="1.7 .5 1.1 .6 2.3 .5 .9 1"/>
<path d="M934.0,199.95h25.0" stroke="#7A8088" stroke-width="1.12" stroke-dasharray="1.7 .5 1.1 .6 2.3 .5 .9 1"/>
<path d="M934.0,202.45h45.0" stroke="#7A8088" stroke-width="1.12" stroke-dasharray="1.7 .5 1.1 .6 2.3 .5 .9 1"/>
<path d="M934.0,204.95h20.0" stroke="#7A8088" stroke-width="1.12" stroke-dasharray="1.7 .5 1.1 .6 2.3 .5 .9 1"/>
<path d="M934.0,207.45h15.0" stroke="#7A8088" stroke-width="1.12" stroke-dasharray="1.7 .5 1.1 .6 2.3 .5 .9 1"/>
<rect x="932.6" y="228.3" width="54.6" height="56.5" fill="#EEF0E6" />
<path d="M955.0,228.70h4.0" stroke="#888" stroke-width="1.00" stroke-dasharray="1.7 .5 1.1 .6 2.3 .5 .9 1"/>
<path d="M936.0,233.50h10.0" stroke="#66707A" stroke-width="1.25" stroke-dasharray="1.7 .5 1.1 .6 2.3 .5 .9 1"/>
<path d="M938.0,236.50h45.0" stroke="#66707A" stroke-width="1.25" stroke-dasharray="1.7 .5 1.1 .6 2.3 .5 .9 1"/>
<path d="M940.0,239.50h30.0" stroke="#66707A" stroke-width="1.25" stroke-dasharray="1.7 .5 1.1 .6 2.3 .5 .9 1"/>
<path d="M945.0,242.50h6.0" stroke="#66707A" stroke-width="1.25" stroke-dasharray="1.7 .5 1.1 .6 2.3 .5 .9 1"/>
<path d="M936.0,245.50h48.0" stroke="#66707A" stroke-width="1.25" stroke-dasharray="1.7 .5 1.1 .6 2.3 .5 .9 1"/>
<path d="M940.0,248.50h35.0" stroke="#66707A" stroke-width="1.25" stroke-dasharray="1.7 .5 1.1 .6 2.3 .5 .9 1"/>
<path d="M943.0,251.50h20.0" stroke="#66707A" stroke-width="1.25" stroke-dasharray="1.7 .5 1.1 .6 2.3 .5 .9 1"/>
<path d="M943.0,254.50h25.0" stroke="#66707A" stroke-width="1.25" stroke-dasharray="1.7 .5 1.1 .6 2.3 .5 .9 1"/>
<path d="M944.0,257.50h20.0" stroke="#66707A" stroke-width="1.25" stroke-dasharray="1.7 .5 1.1 .6 2.3 .5 .9 1"/>
<rect x="988.2" y="179.8" width="31.1" height="105.0" fill="#E8ECF2" />
<rect x="989.0" y="182.8" width="29.5" height="24.0" fill="#FFFFFF" />
<path d="M990.0,185.00h8.0" stroke="#707A88" stroke-width="1.25" stroke-dasharray="1.7 .5 1.1 .6 2.3 .5 .9 1"/>
<path d="M1000.0,185.00h8.0" stroke="#707A88" stroke-width="1.25" stroke-dasharray="1.7 .5 1.1 .6 2.3 .5 .9 1"/>
<path d="M1010.0,185.00h7.0" stroke="#707A88" stroke-width="1.25" stroke-dasharray="1.7 .5 1.1 .6 2.3 .5 .9 1"/>
<path d="M990.0,189.00h8.0" stroke="#707A88" stroke-width="1.25" stroke-dasharray="1.7 .5 1.1 .6 2.3 .5 .9 1"/>
<path d="M1000.0,189.00h8.0" stroke="#707A88" stroke-width="1.25" stroke-dasharray="1.7 .5 1.1 .6 2.3 .5 .9 1"/>
<path d="M1010.0,189.00h7.0" stroke="#707A88" stroke-width="1.25" stroke-dasharray="1.7 .5 1.1 .6 2.3 .5 .9 1"/>
<path d="M990.0,193.00h8.0" stroke="#707A88" stroke-width="1.25" stroke-dasharray="1.7 .5 1.1 .6 2.3 .5 .9 1"/>
<path d="M1000.0,193.00h8.0" stroke="#707A88" stroke-width="1.25" stroke-dasharray="1.7 .5 1.1 .6 2.3 .5 .9 1"/>
<path d="M1010.0,193.00h7.0" stroke="#707A88" stroke-width="1.25" stroke-dasharray="1.7 .5 1.1 .6 2.3 .5 .9 1"/>
<path d="M990.0,197.00h8.0" stroke="#707A88" stroke-width="1.25" stroke-dasharray="1.7 .5 1.1 .6 2.3 .5 .9 1"/>
<path d="M1000.0,197.00h8.0" stroke="#707A88" stroke-width="1.25" stroke-dasharray="1.7 .5 1.1 .6 2.3 .5 .9 1"/>
<path d="M1010.0,197.00h7.0" stroke="#707A88" stroke-width="1.25" stroke-dasharray="1.7 .5 1.1 .6 2.3 .5 .9 1"/>
<path d="M990.0,201.00h8.0" stroke="#707A88" stroke-width="1.25" stroke-dasharray="1.7 .5 1.1 .6 2.3 .5 .9 1"/>
<path d="M1000.0,201.00h8.0" stroke="#707A88" stroke-width="1.25" stroke-dasharray="1.7 .5 1.1 .6 2.3 .5 .9 1"/>
<path d="M1010.0,201.00h7.0" stroke="#707A88" stroke-width="1.25" stroke-dasharray="1.7 .5 1.1 .6 2.3 .5 .9 1"/>
<path d="M990.0,204.50h8.0" stroke="#707A88" stroke-width="1.25" stroke-dasharray="1.7 .5 1.1 .6 2.3 .5 .9 1"/>
<path d="M1000.0,204.50h8.0" stroke="#707A88" stroke-width="1.25" stroke-dasharray="1.7 .5 1.1 .6 2.3 .5 .9 1"/>
<path d="M1010.0,204.50h7.0" stroke="#707A88" stroke-width="1.25" stroke-dasharray="1.7 .5 1.1 .6 2.3 .5 .9 1"/>
<rect x="989.0" y="208.0" width="29.5" height="3.0" fill="#C8D0DC" />
<rect x="989.0" y="212.3" width="29.5" height="2.8" fill="#2F5593" />
<path d="M990.0,217.00h20.0" stroke="#6A7484" stroke-width="1.25" stroke-dasharray="1.7 .5 1.1 .6 2.3 .5 .9 1"/>
<path d="M1012.0,217.00h5.0" stroke="#6A7484" stroke-width="1.25" stroke-dasharray="1.7 .5 1.1 .6 2.3 .5 .9 1"/>
<path d="M990.0,220.00h20.0" stroke="#6A7484" stroke-width="1.25" stroke-dasharray="1.7 .5 1.1 .6 2.3 .5 .9 1"/>
<path d="M1012.0,220.00h5.0" stroke="#6A7484" stroke-width="1.25" stroke-dasharray="1.7 .5 1.1 .6 2.3 .5 .9 1"/>
<path d="M990.0,223.00h20.0" stroke="#6A7484" stroke-width="1.25" stroke-dasharray="1.7 .5 1.1 .6 2.3 .5 .9 1"/>
<path d="M1012.0,223.00h5.0" stroke="#6A7484" stroke-width="1.25" stroke-dasharray="1.7 .5 1.1 .6 2.3 .5 .9 1"/>
<path d="M990.0,226.00h20.0" stroke="#6A7484" stroke-width="1.25" stroke-dasharray="1.7 .5 1.1 .6 2.3 .5 .9 1"/>
<path d="M1012.0,226.00h5.0" stroke="#6A7484" stroke-width="1.25" stroke-dasharray="1.7 .5 1.1 .6 2.3 .5 .9 1"/>
<path d="M990.0,229.00h20.0" stroke="#6A7484" stroke-width="1.25" stroke-dasharray="1.7 .5 1.1 .6 2.3 .5 .9 1"/>
<path d="M1012.0,229.00h5.0" stroke="#6A7484" stroke-width="1.25" stroke-dasharray="1.7 .5 1.1 .6 2.3 .5 .9 1"/>
<rect x="989.0" y="231.5" width="29.5" height="2.5" fill="#C8D0DC" />
<rect x="989.0" y="236.0" width="29.5" height="3.0" fill="#D0D6E0" />
<rect x="990.0" y="241.0" width="28.0" height="33.0" fill="#FFFFFF" />
<path d="M995.0,244.50h8.0" stroke="#6A7484" stroke-width="1.25" stroke-dasharray="1.7 .5 1.1 .6 2.3 .5 .9 1"/>
<path d="M997.0,247.50h15.0" stroke="#6A7484" stroke-width="1.25" stroke-dasharray="1.7 .5 1.1 .6 2.3 .5 .9 1"/>
<path d="M1000.0,250.50h10.0" stroke="#6A7484" stroke-width="1.25" stroke-dasharray="1.7 .5 1.1 .6 2.3 .5 .9 1"/>
<path d="M1002.0,253.50h12.0" stroke="#6A7484" stroke-width="1.25" stroke-dasharray="1.7 .5 1.1 .6 2.3 .5 .9 1"/>
<path d="M996.0,256.50h16.0" stroke="#6A7484" stroke-width="1.25" stroke-dasharray="1.7 .5 1.1 .6 2.3 .5 .9 1"/>
<path d="M1000.0,259.50h14.0" stroke="#6A7484" stroke-width="1.25" stroke-dasharray="1.7 .5 1.1 .6 2.3 .5 .9 1"/>
<path d="M1004.0,262.50h10.0" stroke="#6A7484" stroke-width="1.25" stroke-dasharray="1.7 .5 1.1 .6 2.3 .5 .9 1"/>
<path d="M1002.0,265.50h12.0" stroke="#6A7484" stroke-width="1.25" stroke-dasharray="1.7 .5 1.1 .6 2.3 .5 .9 1"/>
<rect x="989.0" y="277.0" width="29.5" height="3.0" fill="#C8D0DC" />
<rect x="989.0" y="281.0" width="29.5" height="3.0" fill="#D8DEE8" />
<rect x="1020.3" y="179.8" width="14.6" height="105.0" fill="#F0F2F5" />
<rect x="1021.0" y="183.0" width="13.2" height="3.4" fill="#D5EBCB" stroke="#A8C4A0" stroke-width=".4"/>
<rect x="1021.0" y="187.2" width="13.2" height="3.4" fill="#D5EBCB" stroke="#A8C4A0" stroke-width=".4"/>
<rect x="1021.0" y="191.4" width="13.2" height="3.4" fill="#D5EBCB" stroke="#A8C4A0" stroke-width=".4"/>
<rect x="1021.0" y="195.6" width="13.2" height="3.4" fill="#D5EBCB" stroke="#A8C4A0" stroke-width=".4"/>
<rect x="1021.0" y="199.8" width="13.2" height="3.4" fill="#D5EBCB" stroke="#A8C4A0" stroke-width=".4"/>
<rect x="1021.0" y="204.0" width="13.2" height="3.4" fill="#E4E8F0" stroke="#A8C4A0" stroke-width=".4"/>
<rect x="1021.0" y="208.2" width="13.2" height="3.4" fill="#E4E8F0" stroke="#A8C4A0" stroke-width=".4"/>
<rect x="1021.0" y="212.4" width="13.2" height="3.4" fill="#E4E8F0" stroke="#A8C4A0" stroke-width=".4"/>
<rect x="1021.0" y="216.6" width="13.2" height="3.4" fill="#D5EBCB" stroke="#A8C4A0" stroke-width=".4"/>
<rect x="1021.0" y="220.8" width="13.2" height="3.4" fill="#D5EBCB" stroke="#A8C4A0" stroke-width=".4"/>
<rect x="1021.0" y="225.0" width="13.2" height="3.4" fill="#D5EBCB" stroke="#A8C4A0" stroke-width=".4"/>
<rect x="1021.0" y="229.2" width="13.2" height="3.4" fill="#D5EBCB" stroke="#A8C4A0" stroke-width=".4"/>
<rect x="1021.0" y="233.4" width="13.2" height="3.4" fill="#D5EBCB" stroke="#A8C4A0" stroke-width=".4"/>
<rect x="1021.0" y="237.6" width="13.2" height="3.4" fill="#D5EBCB" stroke="#A8C4A0" stroke-width=".4"/>
<rect x="1021.0" y="241.8" width="13.2" height="3.4" fill="#D5EBCB" stroke="#A8C4A0" stroke-width=".4"/>
<rect x="1021.0" y="246.0" width="13.2" height="3.4" fill="#D5EBCB" stroke="#A8C4A0" stroke-width=".4"/>
<rect x="1021.0" y="250.2" width="13.2" height="3.4" fill="#D5EBCB" stroke="#A8C4A0" stroke-width=".4"/>
<rect x="1021.0" y="254.4" width="13.2" height="3.4" fill="#E4E8F0" stroke="#A8C4A0" stroke-width=".4"/>
<rect x="1021.0" y="258.6" width="13.2" height="3.4" fill="#D5EBCB" stroke="#A8C4A0" stroke-width=".4"/>
<rect x="1021.0" y="262.8" width="13.2" height="3.4" fill="#D5EBCB" stroke="#A8C4A0" stroke-width=".4"/>
<rect x="1021.0" y="267.0" width="13.2" height="3.4" fill="#D5EBCB" stroke="#A8C4A0" stroke-width=".4"/>
<rect x="1021.0" y="271.2" width="13.2" height="3.4" fill="#D5EBCB" stroke="#A8C4A0" stroke-width=".4"/>
<rect x="1021.0" y="275.4" width="13.2" height="3.4" fill="#D5EBCB" stroke="#A8C4A0" stroke-width=".4"/>
<rect x="1021.0" y="279.6" width="13.2" height="3.4" fill="#D5EBCB" stroke="#A8C4A0" stroke-width=".4"/>
<rect x="1021.0" y="196.0" width="2.0" height="2.5" fill="#2F5593" />
<rect x="1021.0" y="200.5" width="2.0" height="2.5" fill="#2F5593" />
<rect x="1021.0" y="249.0" width="2.0" height="2.5" fill="#2F5593" /></g>
</svg>

<!-- photo -->
<svg width="1200" height="627" style="z-index:2">
  <defs>
    <clipPath id="pc"><rect x="827.2" y="407.8" width="185.6" height="139.6"/></clipPath>
    <filter id="bl" x="-5%" y="-5%" width="110%" height="110%"><feGaussianBlur stdDeviation="0.6"/></filter>
    <linearGradient id="desk" x1="0" x2="1" y1="0" y2="1"><stop offset="0" stop-color="#8E4E24"/><stop offset=".45" stop-color="#AE6C38"/><stop offset="1" stop-color="#9A5A2C"/></linearGradient>
    <linearGradient id="coat" x1="0" x2="1" y1="0" y2="1"><stop offset="0" stop-color="#F8F8F6"/><stop offset=".55" stop-color="#EAEAE6"/><stop offset="1" stop-color="#F6F6F4"/></linearGradient>
    <linearGradient id="scrn" x1="0" x2="1"><stop offset="0" stop-color="#D8E0EE"/><stop offset=".5" stop-color="#E8EDF6"/><stop offset="1" stop-color="#DCE4F2"/></linearGradient>
    <radialGradient id="head" cx=".45" cy=".45" r=".65"><stop offset="0" stop-color="#D9BBAA"/><stop offset="1" stop-color="#A87868"/></radialGradient>
    <pattern id="keys" width="3.2" height="3.2" patternUnits="userSpaceOnUse" patternTransform="rotate(17)"><rect x=".6" y=".6" width="1.6" height="1.4" fill="#6A6E72"/></pattern>
  </defs>
  <g clip-path="url(#pc)">
  <g filter="url(#bl)">
    <rect x="827" y="407" width="187" height="142" fill="url(#desk)"/>
    <!-- dark tower behind -->
    <polygon points="872,407 926,407 926,426 915,440 878,441 870,428" fill="#17171A"/>
    <circle cx="880" cy="437" r="1.5" fill="#3050A0"/>
    <!-- pens -->
    <polygon points="912,407 926,407 928,428 918,430" fill="#CFCBBE"/>
    <!-- monitor screen -->
    <polygon points="924.8,407 1014,407 1014,440.6 924.8,419.6" fill="url(#scrn)"/>
    <polygon points="924.8,419.4 1014,440.4 1014,443 924.8,422" fill="#1A1A1A"/><rect x="922.8" y="407" width="2.2" height="15" fill="#222"/>
    <line x1="968" y1="408" x2="968" y2="429" stroke="#C6D0E2" stroke-width=".8"/>
    <line x1="995" y1="408" x2="995" y2="435.5" stroke="#C6D0E2" stroke-width=".8"/>
    <circle cx="948" cy="421" r="1" fill="#6070A0"/><circle cx="962" cy="424" r="1" fill="#6070A0"/>
    <!-- stand -->
    <polygon points="970.7,430.5 979.3,432.5 979.3,445.2 970.7,443.5" fill="#1E1E1E"/>
    <path d="M955.4,431.8 L997,445.6 Q999.5,446.6 997.5,448.5 L982.5,460 Q981,461 979,460.3 L949,450.5 Q947,449.5 948.5,448Z" fill="#2C2C2A"/>
    <path d="M918,443 Q945,437 968,433 M997,455 Q1006,462 1014,460 M988,452 Q1000,440 1014,436" stroke="#1E1E1E" stroke-width="1" fill="none"/>
    <!-- box -->
    <polygon points="895.4,424 910,420 919.7,424 919,441 904,443 896,439" fill="#ECE6D0"/>
    <polygon points="897.5,425.5 910,422 917,425.5 905,429.5" fill="#3C9ADA"/>
    <polygon points="909,422 913,421 916.5,424 912.5,425" fill="#E0A040"/>
    <!-- phone on desk -->
    <polygon points="897.7,450 912,443 917.5,447 903,455" fill="#1A1A1C"/>
    <!-- keyboard -->
    <polygon points="921,447 1009,474 1001,488 908,458" fill="#1E2022"/>
    <polygon points="921,447 1009,474 1001,488 908,458" fill="url(#keys)"/>
    <!-- under desk -->
    <polygon points="911,495 1014,541 1014,549 940,549 911,522" fill="#1C1814"/>
    <polygon points="912,500 960,518 958,528 912,512" fill="#2A221C"/>
    <path d="M911,494.5 L1014,541" stroke="#5E3A1E" stroke-width="1.5"/>
    <!-- coat body -->
    <path d="M827,435 Q845,445 866,443 Q878,448 888,456 Q900,470 903,484 Q909,490 911.5,494 L912,548 L827,548Z" fill="url(#coat)"/>
    <path d="M868,446 Q880,462 884,482 Q887,500 884,520" stroke="#D2D2CA" stroke-width="1.6" fill="none"/>
    <path d="M845,468 Q860,495 866,548 M835,500 Q842,520 845,548" stroke="#E0E0DA" stroke-width="2" fill="none"/>
    <path d="M890,460 Q898,475 902,486" stroke="#BDBDB5" stroke-width="1.2" fill="none"/>
    <!-- left hand -->
    <path d="M893,494 Q902,489 909,494 Q913,505 911,520 Q907,530 899,527 Q892,512 893,494Z" fill="#CF9A88"/>
    <path d="M893,490 Q903,486 911,492 L911,494 Q902,489 893,492.5Z" fill="#3A3A3A"/>
    <!-- head -->
    <path d="M827,407 L866,407 Q872,420 868,432 Q860,444 845,446 Q832,446 827,442Z" fill="url(#head)"/>
    <ellipse cx="833" cy="422" rx="4" ry="7.5" fill="#B8887A"/>
    <!-- mask -->
    <path d="M847,409 Q866,407 884,412 Q884,426 878,436 Q871,443 858,443 Q850,437 849,428Z" fill="#F2F2EE"/>
    <path d="M849,428 Q860,434 876,434" stroke="#DADAD4" stroke-width="1" fill="none"/>
    <path d="M847,413 L835,411 M850,430 L838,436" stroke="#E6D2BE" stroke-width="1"/>
    <!-- sleeve bottom -->
    <path d="M879,548 Q895,528 915,521 Q930,519 937,527 Q940,538 935,548Z" fill="#F5F5F3"/>
    <!-- right hand -->
    <path d="M927,535 Q930,518 940,508 Q944,497 949,498 Q952,503 948,514 Q960,507 974,501 Q979,501 977,506 Q966,514 958,524 Q948,534 936,540Z" fill="#DDA492"/>
    <!-- pink sheet -->
    <polygon points="993,493 1014,488 1014,522 999,520" fill="#EEC9CB"/>
    <ellipse cx="1011.5" cy="505" rx="3.5" ry="8" fill="#18181A"/>
    <!-- phone in hand -->
    <polygon points="969.4,515 982.5,491.7 998.3,497.5 985,519.5" fill="#F8F8F8" stroke="#2A2A2A" stroke-width="1.1"/>
  </g>
  <circle cx="981" cy="510.2" r="26.5" fill="none" stroke="#F8CDD5" stroke-width="5"/>
  </g>
</svg>

<!-- callouts -->
<svg width="1200" height="627" style="z-index:5">
  <g fill="#fff" stroke="#1A1A1A" stroke-width="1.8" stroke-dasharray="1.8 2">
    <rect x="318.1" y="218" width="112" height="45.6"/>
    <rect x="317.6" y="376.8" width="112.2" height="44"/>
    <rect x="1058.8" y="368.6" width="109.4" height="44.2"/>
    <rect x="1058.8" y="429.3" width="109.4" height="43.8"/>
  </g>
  <g fill="none" stroke="#1A1A1A" stroke-width="1.8" stroke-dasharray="1.8 2">
    <polyline points="317,241.9 289.6,241.9 257,274"/>
    <polyline points="316.8,397 288,397 255,428.3"/>
    <polyline points="1058,386.4 1021.3,386.4 953,253"/>
    <polyline points="1058,449.4 1023.5,449.4 1000,491"/>
  </g>
</svg>
<div class="call" style="left:318px;top:221.5px;width:112px;z-index:6">医師と患者の<br>会話内容を認識</div>
<div class="call" style="left:318px;top:380.5px;width:112px;z-index:6"><div style="height:18.5px;position:relative;left:-2.5px"><span style="font-size:16.5px">SOAP</span><span style="font-size:9px;color:#777;position:relative;top:-7px;margin-left:.5px">※7</span><span style="margin-left:7px">形式</span></div><div style="height:18.5px;position:relative;left:-1.5px">カルテ下書き</div></div>
<div class="call" style="left:1059px;top:373px;width:109px;z-index:6">下書き内容を<br>カルテへ取込み</div>
<div class="call" style="left:1059px;top:433.5px;width:109px;z-index:6">音声入力端末<br>としてのスマホ</div>

</body>
</html>
